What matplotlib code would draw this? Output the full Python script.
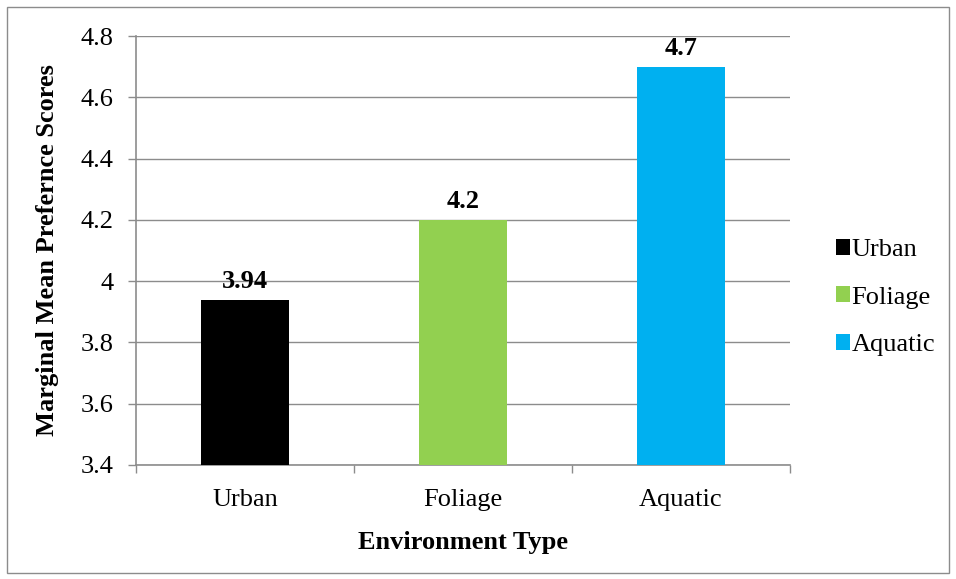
import matplotlib
matplotlib.use("Agg")
import matplotlib.pyplot as plt
from matplotlib.patches import Rectangle, Patch

plt.rcParams['font.family'] = ['Liberation Serif', 'DejaVu Serif']

# dados
categorias = ["Urban", "Foliage", "Aquatic"]
valores = [3.94, 4.2, 4.7]
rotulos = ["3.94", "4.2", "4.7"]
cores = ["#000000", "#92D050", "#00B0F0"]
yticks = [3.4, 3.6, 3.8, 4.0, 4.2, 4.4, 4.6, 4.8]
ytick_labels = ["3.4", "3.6", "3.8", "4", "4.2", "4.4", "4.6", "4.8"]

fs = 19
fam = ['Liberation Serif', 'DejaVu Serif']

fig = plt.figure(figsize=(9.56, 5.79), dpi=100)
ax = fig.add_axes([0.1423, 0.1969, 0.6841, 0.7409])

# moldura externa cinza
fig.patches.append(Rectangle((7/956, 6/579), 942/956, 566/579, transform=fig.transFigure,
                             fill=False, edgecolor="#8c8c8c", linewidth=1))

x = range(len(categorias))
base = 3.4
ax.bar(x, [v - base for v in valores], bottom=base, width=0.4, color=cores, zorder=3)

for i, v in enumerate(valores):
    ax.text(i, v + 0.022, rotulos[i], ha="center", va="bottom", family=fam,
            fontsize=fs, fontweight="bold", zorder=4)

ax.set_xlim(-0.5, 2.5)
ax.set_ylim(3.4, 4.8)
ax.set_yticks(yticks)
ax.set_yticklabels(ytick_labels, fontsize=fs, family=fam)
ax.set_xticks(list(x))
ax.set_xticklabels(categorias, fontsize=fs, family=fam)
ax.set_xticks([-0.5, 0.5, 1.5, 2.5], minor=True)
ax.tick_params(axis="x", which="major", length=0, pad=17)
ax.tick_params(axis="x", which="minor", length=6, color="#8c8c8c", width=1)
ax.tick_params(axis="y", length=6, color="#8c8c8c", width=1, pad=10)

ax.yaxis.grid(True, color="#8c8c8c", linewidth=1, zorder=0)
for s in ["top", "right"]:
    ax.spines[s].set_visible(False)
for s in ["left", "bottom"]:
    ax.spines[s].set_color("#8c8c8c")
    ax.spines[s].set_linewidth(1.2)

ax.set_xlabel("Environment Type", fontsize=fs, fontweight="bold", family=fam, labelpad=15)
ax.set_ylabel("Marginal Mean Prefernce Scores", fontsize=fs, fontweight="bold", family=fam, labelpad=16)

handles = [Patch(facecolor=c) for c in cores]
fig.legend(handles, categorias, loc="center left", bbox_to_anchor=(0.874, 0.486),
           frameon=False, prop={'family': fam, 'size': fs}, handlelength=0.55, handleheight=0.55,
           handletextpad=0.05, labelspacing=0.95, borderaxespad=0, borderpad=0)

fig.savefig("out.png", dpi=100)
